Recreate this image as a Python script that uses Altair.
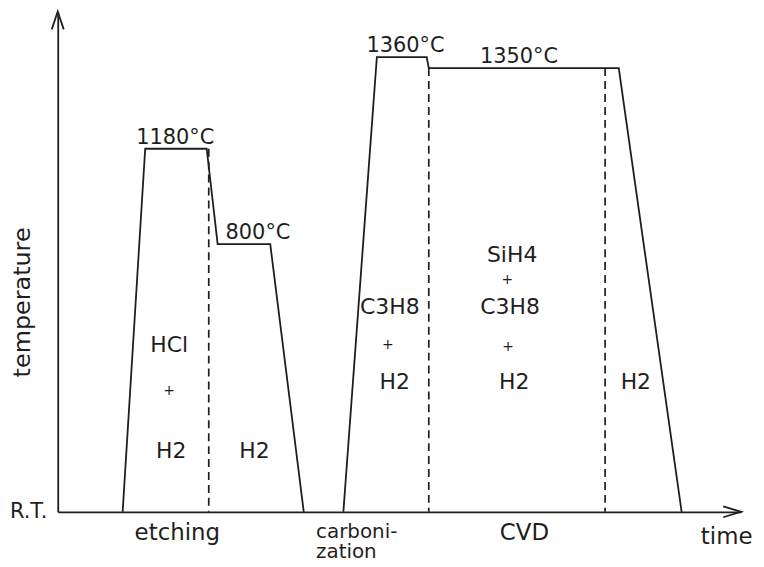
import altair as alt
import pandas as pd

# ---- data read from the schematic (time in arbitrary units, temperature in °C) ----
RT = 25          # room temperature, drawn on the time axis
TOP = 1450       # top end of the temperature axis (arrow tip)

# etching step: ramp up to 1180 °C, drop to 800 °C, cool down
etch_t = [9.5, 12.8, 21.8, 23.4, 31.1, 36.0]
etch_T = [RT, 1180, 1180, 800, 800, RT]

# carbonization (1360 °C) followed by CVD (1350 °C) and cool down
cvd_t = [41.8, 46.7, 54.0, 54.3, 82.1, 91.3]
cvd_T = [RT, 1360, 1360, 1350, 1350, RT]

# dashed dividers between gas phases
dash_t = [22.1, 54.3, 80.1]
dash_T = [1180, 1350, 1350]

# temperature annotations
temp_text = ["1180°C", "800°C", "1360°C", "1350°C"]
temp_t = [17.2, 29.3, 50.9, 67.5]
temp_T = [1180, 800, 1360, 1350]

# gas annotations (position in time / temperature units)
gas_text = ["HCl", "+", "H2", "H2",
            "C3H8", "+", "H2",
            "SiH4", "+", "C3H8", "+", "H2",
            "H2"]
gas_t = [16.3, 16.3, 16.6, 28.8,
         48.6, 48.3, 49.3,
         66.5, 65.8, 66.2, 65.9, 66.8,
         84.6]
gas_T = [509, 376, 201, 201,
         618, 509, 400,
         768, 696, 618, 503, 400,
         400]

# process step names under the time axis
step_text = ["etching", "carboni-\nzation", "CVD"]
step_t = [17.5, 37.8, 68.3]

INK = "#1e1e1e"
FONT = "DejaVu Sans"

profile = pd.DataFrame({
    "t": etch_t + cvd_t,
    "T": etch_T + cvd_T,
    "seg": ["etch"] * len(etch_t) + ["cvd"] * len(cvd_t),
    "i": list(range(len(etch_t))) + list(range(len(cvd_t))),
})
dashes = pd.DataFrame({"t": dash_t, "T": dash_T, "T0": [RT] * len(dash_t)})
temps = pd.DataFrame({"t": temp_t, "T": temp_T, "txt": temp_text})
gases = pd.DataFrame({"t": gas_t, "T": gas_T, "txt": gas_text})
plus = gases[gases.txt == "+"]
words = gases[gases.txt != "+"]
steps = pd.DataFrame({"t": step_t, "T": [RT] * len(step_t), "txt": step_text})
steps_one = steps[steps.txt != "carboni-\nzation"]
steps_two = steps[steps.txt == "carboni-\nzation"]
arrow_x = pd.DataFrame({"t": [100], "T": [RT]})
arrow_y = pd.DataFrame({"t": [0], "T": [TOP]})

W, H = 687, 503

xscale = alt.Scale(domain=[0, 100], nice=False, zero=False)
# schematic (non-linear) temperature axis: piecewise linear scale
yscale = alt.Scale(domain=[RT, 800, 1180, 1350, 1360, TOP],
                   range=[H, 234, 138, 57, 46, 0], nice=False, zero=False)

X = alt.X("t:Q", scale=xscale,
          axis=alt.Axis(title="time", labels=False, ticks=False, grid=False,
                        domain=True, domainColor=INK, domainWidth=1.8,
                        titleX=672, titleY=25, titleAlign="center",
                        titleBaseline="middle", titleFontSize=23,
                        titleFontWeight="normal", titleFont=FONT,
                        titleColor=INK))
Y = alt.Y("T:Q", scale=yscale,
          axis=alt.Axis(title="temperature", values=[RT], labelExpr="'R.T.'",
                        ticks=False, grid=False, domain=True, domainColor=INK,
                        domainWidth=1.8, labelFontSize=21, labelFont=FONT,
                        labelColor=INK, labelPadding=11, labelBaseline="middle",
                        titleX=-35, titleY=292, titleAngle=270,
                        titleAlign="center", titleBaseline="middle",
                        titleFontSize=24, titleFontWeight="normal",
                        titleFont=FONT, titleColor=INK))

lines = alt.Chart(profile).mark_line(color=INK, strokeWidth=1.8).encode(
    x=X, y=Y, detail="seg:N", order="i:Q")

rules = alt.Chart(dashes).mark_rule(color=INK, strokeWidth=1.7,
                                    strokeDash=[8, 5]).encode(
    x=X, y=Y, y2=alt.Y2("T0:Q"))

temp_lbl = alt.Chart(temps).mark_text(font=FONT, fontSize=21, color=INK,
                                      baseline="alphabetic", dy=-5).encode(
    x=X, y=Y, text="txt:N")

gas_lbl = alt.Chart(words).mark_text(font=FONT, fontSize=22, color=INK,
                                     baseline="middle").encode(
    x=X, y=Y, text="txt:N")

plus_lbl = alt.Chart(plus).mark_text(font=FONT, fontSize=14, color=INK,
                                     baseline="middle").encode(
    x=X, y=Y, text="txt:N")

step_lbl = alt.Chart(steps_one).mark_text(font=FONT, fontSize=23, color=INK,
                                          baseline="middle", dy=21).encode(
    x=X, y=Y, text="txt:N")

step_lbl2 = alt.Chart(steps_two).mark_text(font=FONT, fontSize=20, color=INK,
                                           baseline="middle", align="left",
                                           dy=20, lineBreak="\n",
                                           lineHeight=20).encode(
    x=X, y=Y, text="txt:N")

arr_x = alt.Chart(arrow_x).mark_point(
    shape="M-1.8,-0.55L0,0L-1.8,0.55", size=400, filled=False,
    color=INK, strokeWidth=1.8, opacity=1).encode(x=X, y=Y)

arr_y = alt.Chart(arrow_y).mark_point(
    shape="M-0.6,1.8L0,0L0.6,1.8", size=400, filled=False,
    color=INK, strokeWidth=1.8, opacity=1).encode(x=X, y=Y)

chart = alt.layer(lines, rules, temp_lbl, gas_lbl, plus_lbl, step_lbl,
                  step_lbl2, arr_x, arr_y).properties(
    width=W, height=H,
    padding={"left": 50, "top": 2, "right": 15, "bottom": 50},
    autosize=alt.AutoSizeParams(type="none"),
    background="white",
).configure_view(stroke=None)

chart.save("out.html", embed_options={"renderer": "svg", "actions": False})
